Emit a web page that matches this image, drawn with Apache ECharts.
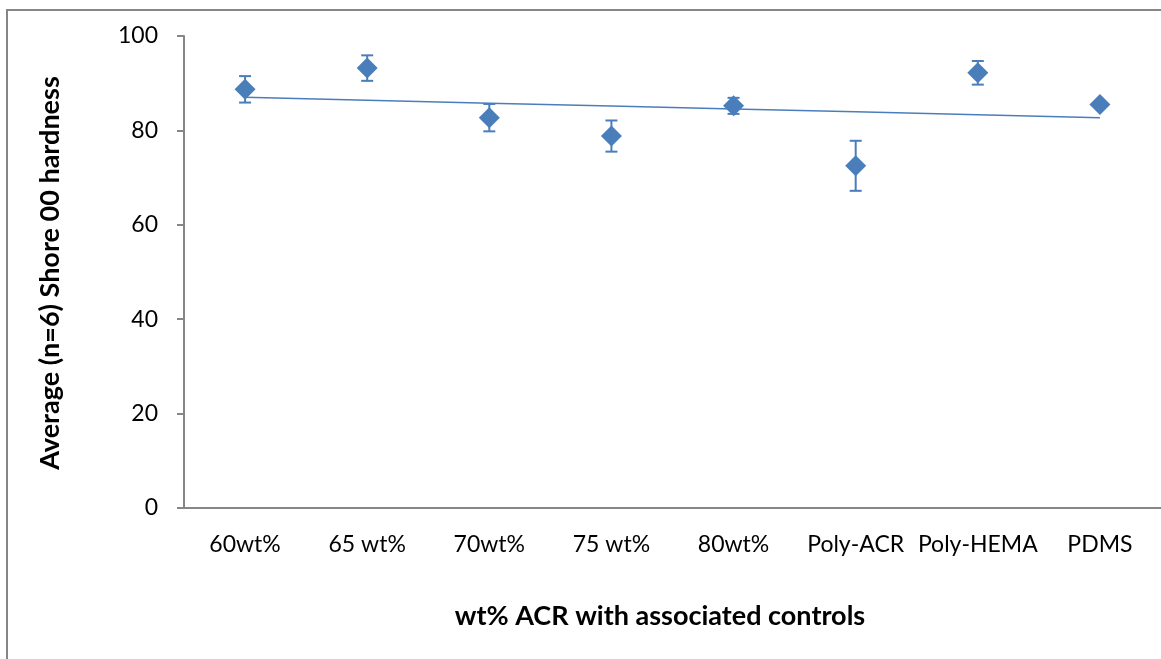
<!DOCTYPE html>
<html>
<head>
<meta charset="utf-8">
<script src="https://cdn.jsdelivr.net/npm/echarts@6/dist/echarts.min.js"></script>
<style>
html,body{margin:0;padding:0;background:#fff;}
#chart{width:1161px;height:659px;}
</style>
</head>
<body>
<div id="chart"></div>
<script>
const categories = ['60wt%', '65 wt%', '70wt%', '75 wt%', '80wt%', 'Poly-ACR', 'Poly-HEMA', 'PDMS'];
const meanHardness = [88.7, 93.2, 82.7, 78.8, 85.2, 72.5, 92.2, 85.5];
const errHardness = [2.8, 2.7, 2.9, 3.3, 1.7, 5.3, 2.5, 0.4];
const yTicks = { min: 0, max: 100, interval: 20 };
const yTitle = 'Average (n=6) Shore 00 hardness';
const xTitle = 'wt% ACR with associated controls';

// Linear trendline fitted to the means (least squares)
const n = meanHardness.length;
const xs = meanHardness.map((_, i) => i + 1);
const mx = xs.reduce((a, b) => a + b, 0) / n;
const my = meanHardness.reduce((a, b) => a + b, 0) / n;
let sxy = 0, sxx = 0;
for (let i = 0; i < n; i++) { sxy += (xs[i] - mx) * (meanHardness[i] - my); sxx += (xs[i] - mx) ** 2; }
const slope = sxy / sxx;
const trend = xs.map(x => my + slope * (x - mx));

const blue = '#4A7EBB';
const axisGray = '#868686';
const font = 'Lato, "Open Sans", sans-serif';

const chart = echarts.init(document.getElementById('chart'));
chart.setOption({
  animation: false,
  backgroundColor: '#fff',
  grid: { left: 184, top: 36, width: 980, height: 472 },
  xAxis: {
    type: 'category',
    data: categories,
    boundaryGap: true,
    axisLine: { lineStyle: { color: axisGray, width: 2 } },
    axisTick: { length: 6, lineStyle: { color: axisGray, width: 2 }, interval: 0 },
    axisLabel: { interval: 0, color: '#000', fontFamily: font, fontSize: 23, margin: 25 },
    splitLine: { show: false }
  },
  yAxis: {
    type: 'value',
    min: yTicks.min, max: yTicks.max, interval: yTicks.interval,
    axisLine: { show: true, lineStyle: { color: axisGray, width: 2 } },
    axisTick: { show: true, length: 7, lineStyle: { color: axisGray, width: 2 } },
    axisLabel: { color: '#000', fontFamily: font, fontSize: 23, margin: 26 },
    splitLine: { show: false }
  },
  graphic: [
    { type: 'rect', shape: { x: 7, y: 10, width: 1200, height: 700 }, style: { fill: 'none', stroke: axisGray, lineWidth: 2 }, silent: true, z: -1 },
    { type: 'text', x: 50, y: 273, rotation: Math.PI / 2,
      style: { text: yTitle, font: 'bold 27px ' + font, fill: '#000', textAlign: 'center', textVerticalAlign: 'middle' } },
    { type: 'text', x: 660, y: 616,
      style: { text: xTitle, font: 'bold 27px ' + font, fill: '#000', textAlign: 'center', textVerticalAlign: 'middle' } }
  ],
  series: [
    {
      type: 'line',
      data: trend,
      symbol: 'none',
      lineStyle: { color: blue, width: 1.5 },
      z: 2
    },
    {
      type: 'custom',
      data: meanHardness.map((m, i) => [i, m - errHardness[i], m + errHardness[i]]),
      renderItem: function (params, api) {
        const lo = api.coord([api.value(0), api.value(1)]);
        const hi = api.coord([api.value(0), api.value(2)]);
        const hw = 6;
        const st = { stroke: blue, lineWidth: 2 };
        return {
          type: 'group',
          children: [
            { type: 'line', shape: { x1: lo[0], y1: lo[1], x2: hi[0], y2: hi[1] }, style: st },
            { type: 'line', shape: { x1: lo[0] - hw, y1: lo[1], x2: lo[0] + hw, y2: lo[1] }, style: st },
            { type: 'line', shape: { x1: hi[0] - hw, y1: hi[1], x2: hi[0] + hw, y2: hi[1] }, style: st }
          ]
        };
      },
      z: 3
    },
    {
      type: 'scatter',
      data: meanHardness,
      symbol: 'diamond',
      symbolSize: [21, 21],
      itemStyle: { color: blue, opacity: 1 },
      z: 4
    }
  ]
});
</script>
</body>
</html>
